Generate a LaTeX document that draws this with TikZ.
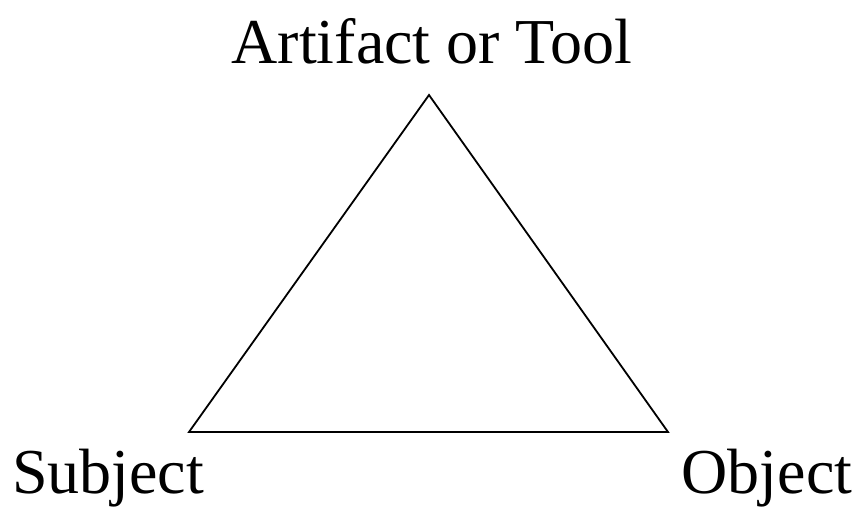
\documentclass[tikz,border=0pt]{standalone}
\usepackage{fontspec}
\setmainfont{Liberation Serif}
\begin{document}
\begin{tikzpicture}[x=1pt,y=-1pt,
  lbl/.style={inner sep=0pt,anchor=base,font=\fontsize{64}{70}\selectfont},
  edge/.style={line width=1.8pt,line join=miter}]
\useasboundingbox (0,0) rectangle (862,510);
\coordinate (top) at (429,95);
\coordinate (bl) at (189,432);
\coordinate (br) at (668,432);
\draw[edge] (top) -- (bl) -- (br) -- cycle;
\node[lbl] (tool) at (432,64) {Artifact or Tool};
\node[lbl] (subj) at (108,493) {Subject};
\node[lbl] (obj) at (767,493) {Object};
\end{tikzpicture}
\end{document}
